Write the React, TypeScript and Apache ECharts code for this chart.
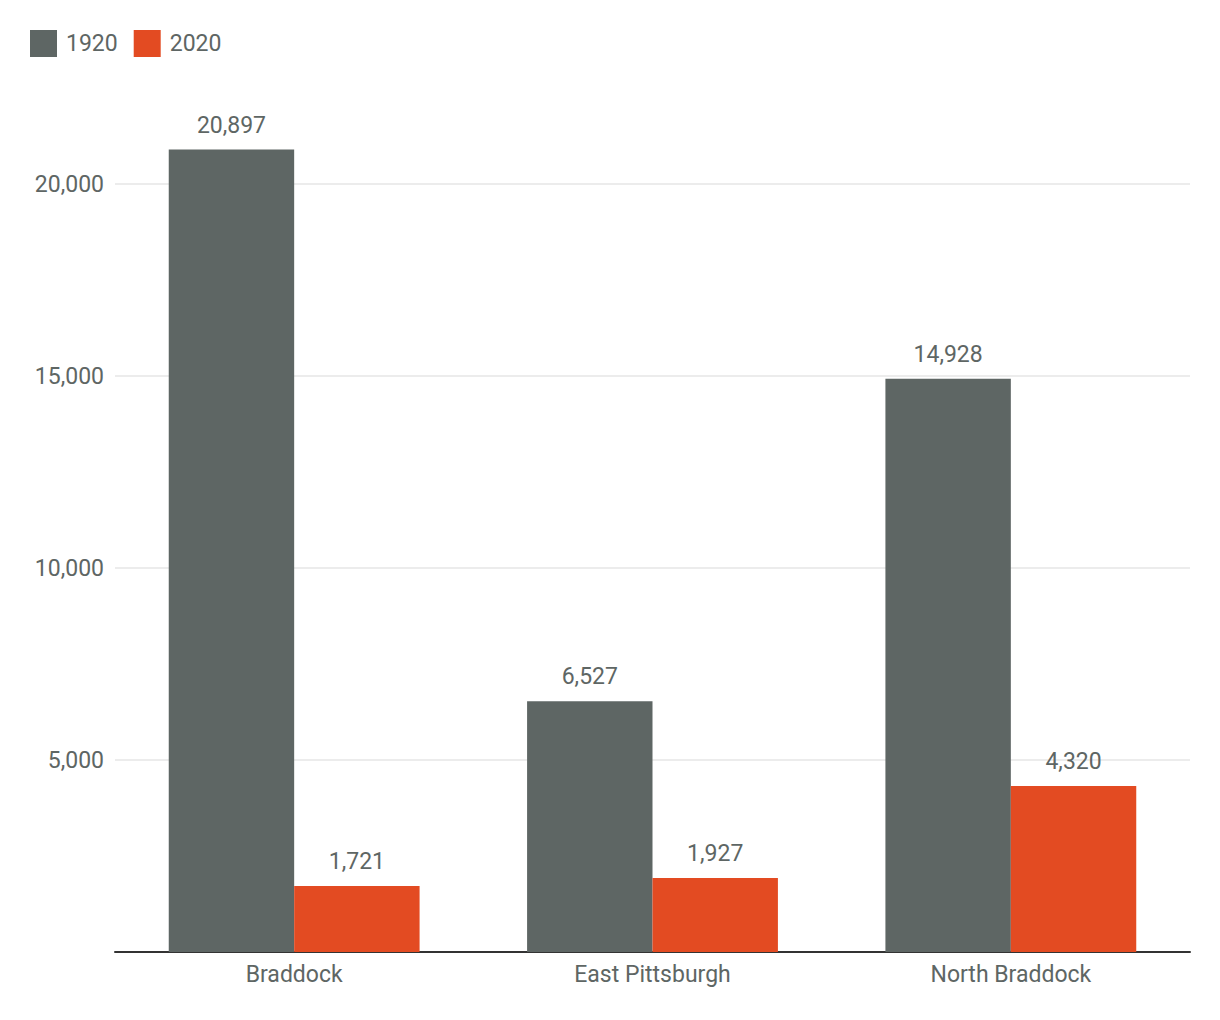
import React, { useEffect, useRef } from "react";
import * as echarts from "echarts";

const categories = ["Braddock", "East Pittsburgh", "North Braddock"];
const series1920 = [20897, 6527, 14928];
const series2020 = [1721, 1927, 4320];
const yTicks = [0, 5000, 10000, 15000, 20000];

const FONT = "Roboto, sans-serif";
const FS = 23;
const TEXT = "#5e6664";

export default function App() {
  const ref = useRef<HTMLDivElement>(null);
  useEffect(() => {
    document.body.style.margin = "0";
    const chart = echarts.init(ref.current!, null, { renderer: "svg" });
    const fmt = (v: number) => v.toLocaleString("en-US");
    chart.setOption({
      animation: false,
      backgroundColor: "#ffffff",
      textStyle: { fontFamily: FONT },
      legend: {
        left: 30,
        top: 30,
        padding: 0,
        itemWidth: 27,
        itemHeight: 27,
        itemGap: 16,
        icon: "rect",
        textStyle: { fontFamily: FONT, fontSize: FS, color: TEXT, padding: [0, 0, 0, 4] },
        data: ["1920", "2020"],
      },
      grid: { left: 115, right: 30, top: 107.2, bottom: 68, containLabel: false },
      xAxis: {
        type: "category",
        data: categories,
        axisLine: { lineStyle: { color: "#333333", width: 2 } },
        axisTick: { show: false },
        axisLabel: { color: TEXT, fontFamily: FONT, fontSize: FS, margin: 11 },
      },
      yAxis: {
        type: "value",
        min: 0,
        max: 22000,
        interval: 5000,
        axisLine: { show: false },
        axisTick: { show: false },
        splitLine: { show: true, showMinLine: false, showMaxLine: false, lineStyle: { color: "#e6e6e6", width: 1.5 } },
        axisLabel: {
          color: TEXT,
          fontFamily: FONT,
          fontSize: FS,
          margin: 11,
          showMinLabel: false,
          showMaxLabel: false,
          formatter: (v: number) => (yTicks.includes(v) && v !== 0 ? fmt(v) : ""),
        },
      },
      series: [
        {
          name: "1920",
          type: "bar",
          data: series1920,
          barGap: "0%",
          barCategoryGap: "30%",
          itemStyle: { color: "#5e6664" },
          label: { show: true, position: "top", distance: 13, color: TEXT, fontFamily: FONT, fontSize: FS, formatter: (p: any) => fmt(p.value) },
        },
        {
          name: "2020",
          type: "bar",
          data: series2020,
          barGap: "0%",
          barCategoryGap: "30%",
          itemStyle: { color: "#e34b22" },
          label: { show: true, position: "top", distance: 13, color: TEXT, fontFamily: FONT, fontSize: FS, formatter: (p: any) => fmt(p.value) },
        },
      ],
    });
    return () => chart.dispose();
  }, []);
  return <div ref={ref} style={{ width: 1220, height: 1020 }} />;
}
